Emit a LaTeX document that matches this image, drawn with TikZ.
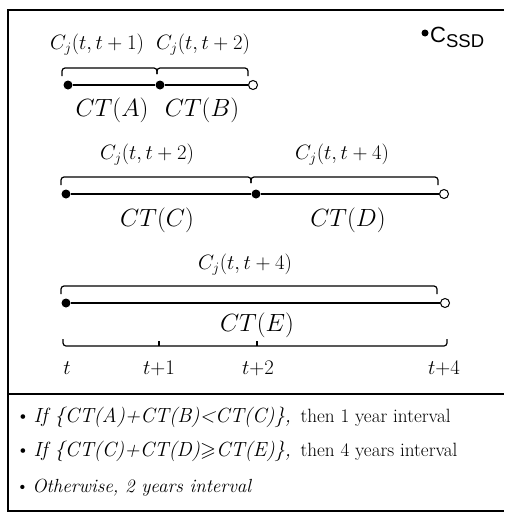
\documentclass[tikz,border=0pt]{standalone}
\usepackage{amssymb}
\usepackage{fontspec}
\newfontfamily\ssdfont{Liberation Sans}
\begin{document}
\begin{tikzpicture}[x=1pt, y=-1pt,
  dot/.style={circle, fill, inner sep=0pt, minimum size=9pt},
  hole/.style={circle, draw, line width=1pt, fill=white, inner sep=0pt, minimum size=9pt},
  seg/.style={line width=1.8pt},
  span/.style={line width=1.2pt, rounded corners=3pt},
  lab/.style={font=\fontsize{19.5}{22}\selectfont},
  ct/.style={font=\fontsize{23.5}{26}\selectfont},
  rule/.style={anchor=base west, font=\fontsize{20.5}{24}\selectfont},
  then/.style={anchor=base west, font=\fontsize{19.2}{22}\selectfont}]
\useasboundingbox (0,0) rectangle (504,514);
% Rahmen
\draw[line width=1.3pt] (504,10) -- (8,10) -- (8,511) -- (504,511);
\draw[line width=1.3pt] (8,394) -- (504,394);
% Legende
\node[dot, minimum size=7pt] (ssddot) at (425,33) {};
\node[anchor=west, inner sep=0pt, font=\ssdfont\fontsize{22}{24}\selectfont] (ssd) at (430,37)
  {C\raisebox{-5pt}{\fontsize{18.5}{18}\selectfont SSD}};
% Zeile 1: A und B
\node[dot] (a0) at (68,85) {};
\node[dot] (a1) at (160,85) {};
\node[hole] (a2) at (253,85) {};
\draw[seg] (a0) -- (a1) -- (a2);
\draw[span] (62,76) |- (157,68) -- (157,74);
\draw[span] (157,74) -- (157,68) -| (248,76);
\node[lab] (cj1) at (97,45) {$C_j(t,t+1)$};
\node[lab] (cj2) at (203,45) {$C_j(t,t+2)$};
\node[ct] (cta) at (112,110) {$CT(A)$};
\node[ct] (ctb) at (202,110) {$CT(B)$};
% Zeile 2: C und D
\node[dot] (c0) at (66,194) {};
\node[dot] (c1) at (256,194) {};
\node[hole] (c2) at (444,194) {};
\draw[seg] (c0) -- (c1) -- (c2);
\draw[span] (61,185) |- (251,177) -- (251,183);
\draw[span] (251,183) -- (251,177) -| (438,185);
\node[lab] (cj3) at (147,155) {$C_j(t,t+2)$};
\node[lab] (cj4) at (342,155) {$C_j(t,t+4)$};
\node[ct] (ctc) at (157,220) {$CT(C)$};
\node[ct] (ctd) at (348,220) {$CT(D)$};
% Zeile 3: E
\node[dot] (e0) at (66,303) {};
\node[hole] (e1) at (445,303) {};
\draw[seg] (e0) -- (e1);
\draw[span] (61,294) |- (437,286) -- (437,294);
\node[lab] (cj5) at (245,265) {$C_j(t,t+4)$};
\node[ct] (cte) at (257,325) {$CT(E)$};
% Zeitachse
\draw[span] (63,339) |- (447,346) -- (447,339);
\draw[line width=1.2pt] (159,346) -- (159,341);
\draw[line width=1.2pt] (257,346) -- (257,341);
\node[lab, font=\fontsize{22}{24}\selectfont] (t0) at (67,368) {$t$};
\node[lab, font=\fontsize{22}{24}\selectfont] (t1) at (159,368) {$t{+}1$};
\node[lab, font=\fontsize{22}{24}\selectfont] (t2) at (258,368) {$t{+}2$};
\node[lab, font=\fontsize{22}{24}\selectfont] (t4) at (444,368) {$t{+}4$};
% Regeln
\node[rule] (r1) at (12,422) {\textbullet\,\textit{If \{CT(A)+CT(B)<CT(C)\},}};
\node[then] (r1b) at (297,422) {then 1 year interval};
\node[rule] (r2) at (12,456) {\textbullet\,\textit{If \{CT(C)+CT(D)$\geqslant$CT(E)\},}};
\node[then] (r2b) at (297,456) {then 4 years interval};
\node[rule, font=\fontsize{19}{22}\selectfont] (r3) at (12,492) {\textbullet\,\textit{Otherwise, 2 years interval}};
\end{tikzpicture}
\end{document}
